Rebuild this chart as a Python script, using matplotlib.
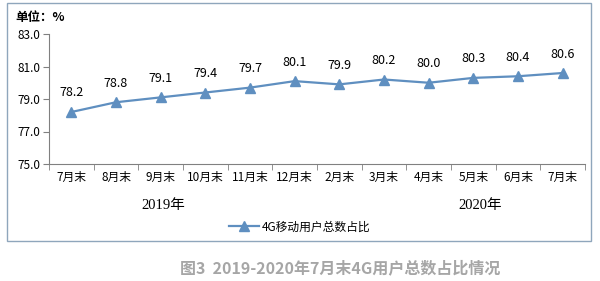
import matplotlib.pyplot as plt
from matplotlib.patches import Rectangle

plt.rcParams['font.family'] = ['Noto Sans CJK SC', 'DejaVu Sans']

# data
months = ['7月末', '8月末', '9月末', '10月末', '11月末', '12月末',
          '2月末', '3月末', '4月末', '5月末', '6月末', '7月末']
share = [78.2, 78.8, 79.1, 79.4, 79.7, 80.1, 79.9, 80.2, 80.0, 80.3, 80.4, 80.6]
years = ['2019年', '2020年']
series_name = '4G移动用户总数占比'
line_color = '#5F8FC0'

fig = plt.figure(figsize=(6, 2.81), dpi=100)

# outer frame around the chart
fig.patches.append(Rectangle((7 / 600, 1 - 241 / 281), 584 / 600, 238 / 281,
                             transform=fig.transFigure, fill=False,
                             edgecolor='#8FA6BC', linewidth=1))

ax = fig.add_axes([49 / 600, 1 - 164 / 281, 536 / 600, 130 / 281])
x = range(len(months))
ax.plot(x, share, color=line_color, linewidth=1.6, marker='^', markersize=6.5,
        label=series_name)
for i, v in zip(x, share):
    ax.annotate(f'{v:.1f}', (i, v), xytext=(0, 9), textcoords='offset points',
                ha='center', va='bottom', fontsize=9)

ax.set_xlim(-0.5, len(months) - 0.5)
ax.set_ylim(75, 83)
ax.set_yticks([75, 77, 79, 81, 83])
ax.set_yticklabels([f'{t:.1f}' for t in [75, 77, 79, 81, 83]], fontsize=8.5)
ax.set_xticks(list(x))
ax.set_xticklabels(months, fontsize=8.5)
ax.set_xticks([i - 0.5 for i in range(len(months) + 1)], minor=True)
ax.tick_params(axis='x', which='major', length=0, pad=5)
ax.tick_params(axis='x', which='minor', length=4, color='#808080')
ax.tick_params(axis='y', length=4, color='#808080', pad=2)
for s in ['top', 'right']:
    ax.spines[s].set_visible(False)
for s in ['left', 'bottom']:
    ax.spines[s].set_color('#808080')

fig.text(15 / 600, 1 - 18 / 281, '单位：%', fontsize=9, fontweight='bold',
         va='center', ha='left')
fig.text(163 / 600, 1 - 206 / 281, years[0], fontsize=10.5, ha='center',
         va='center', family=['Liberation Serif', 'Noto Sans CJK SC'])
fig.text(480 / 600, 1 - 206 / 281, years[1], fontsize=10.5, ha='center',
         va='center', family=['Liberation Serif', 'Noto Sans CJK SC'])

fig.legend(loc='center', bbox_to_anchor=(300 / 600, 1 - 227 / 281),
           frameon=False, fontsize=8.5, handlelength=2.5, handletextpad=0.3)

fig.text(340 / 600, 1 - 268 / 281, '图3  2019-2020年7月末4G用户总数占比情况',
         fontsize=11.5, fontweight='bold', color='#A6A6A6', ha='center',
         va='center')

fig.savefig('out.png', dpi=100)
